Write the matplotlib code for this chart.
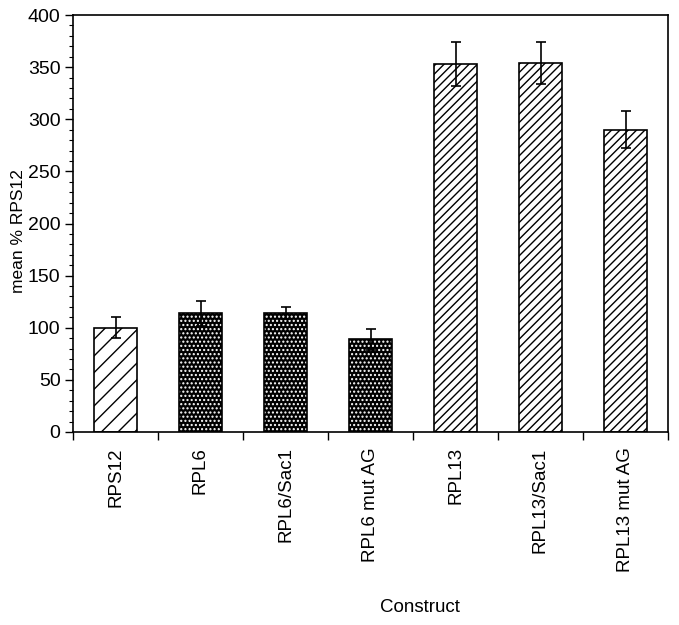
import matplotlib
matplotlib.use("Agg")
import matplotlib.pyplot as plt
import numpy as np

categories = ["RPS12", "RPL6", "RPL6/Sac1", "RPL6 mut AG", "RPL13", "RPL13/Sac1", "RPL13 mut AG"]
means = [100, 114, 114, 89, 353, 354, 290]
errors = [10, 12, 6, 10, 21, 20.5, 18]
groups = ["ref", "dots", "dots", "dots", "dense", "dense", "dense"]

plt.rcParams['font.family'] = ['Liberation Sans', 'DejaVu Sans']
plt.rcParams['hatch.linewidth'] = 1.0

fig = plt.figure(figsize=(6.79, 6.25), dpi=100)
ax = fig.add_axes([73/679, 193/625, 595/679, 417/625])

x = np.arange(len(categories))
w = 0.5
lw = 1.2
fs = 14

for xi, m, g in zip(x, means, groups):
    if g == "ref":
        ax.bar(xi, m, w, facecolor="white", edgecolor="black", hatch="//", linewidth=lw, zorder=2)
    elif g == "dense":
        ax.bar(xi, m, w, facecolor="white", edgecolor="black", hatch="////", linewidth=lw, zorder=2)
    else:
        ax.bar(xi, m, w, facecolor="black", edgecolor="white", hatch="....", linewidth=0, zorder=2)
        ax.bar(xi, m, w, fill=False, edgecolor="black", linewidth=lw, zorder=3)

ax.errorbar(x, means, yerr=errors, fmt="none", ecolor="black", elinewidth=lw,
            capsize=3.6, capthick=lw, zorder=4)

ax.set_xlim(-0.5, len(categories) - 0.5)
ax.set_ylim(0, 400)
ax.set_yticks(np.arange(0, 401, 50))
ax.set_yticks(np.arange(0, 401, 10), minor=True)
ax.tick_params(axis='y', which='major', direction='out', length=6, width=1, labelsize=fs, pad=3)
ax.tick_params(axis='y', which='minor', direction='out', length=3, width=0.8)

ax.set_xticks(np.arange(-0.5, len(categories), 1.0))
ax.set_xticklabels([])
ax.set_xticks(x, minor=True)
ax.set_xticklabels(categories, minor=True, rotation=90, fontsize=13.5, va='top', ha='center')
ax.tick_params(axis='x', which='major', direction='out', length=6, width=1)
ax.tick_params(axis='x', which='minor', length=0, pad=11)

for s in ax.spines.values():
    s.set_linewidth(1.2)

ax.set_ylabel("mean % RPS12", fontsize=12.5, va='center')
ax.yaxis.set_label_coords(-0.092, 0.482)
fig.text(420/679, 1 - 608/625, "Construct", fontsize=13.5, ha='center', va='center')

fig.savefig("out.png", dpi=100)
